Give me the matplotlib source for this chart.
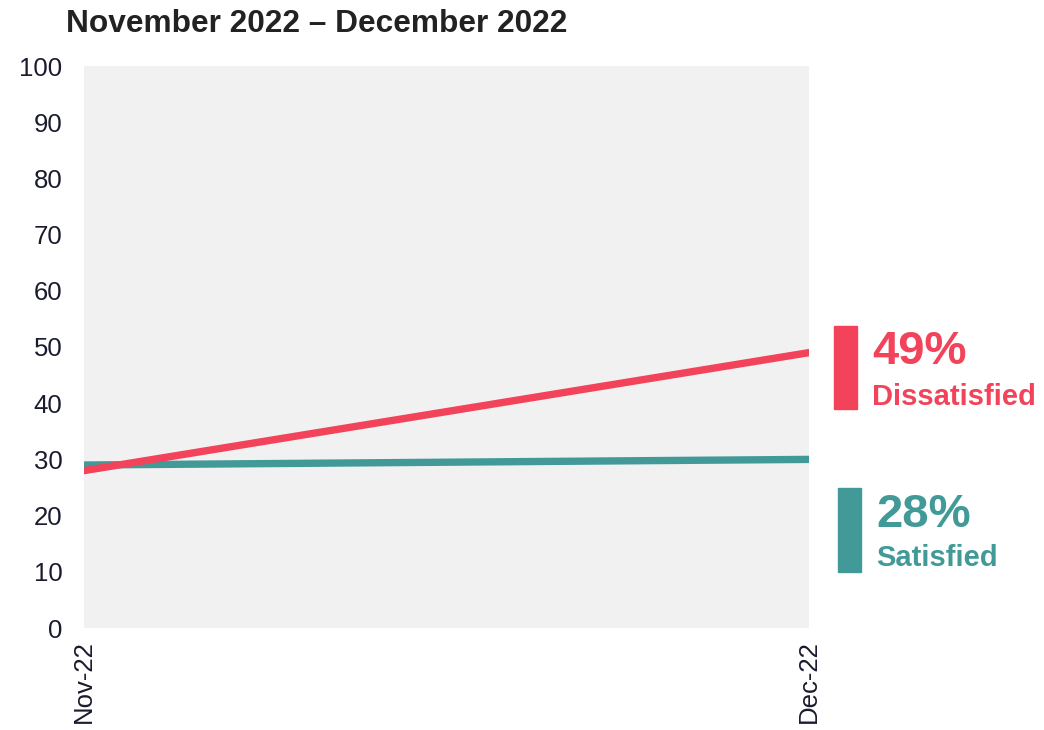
import matplotlib
matplotlib.use("Agg")
import matplotlib.pyplot as plt
from matplotlib.patches import Rectangle

plt.rcParams['font.family'] = ['Liberation Sans', 'DejaVu Sans']

months = ["Nov-22", "Dec-22"]
dissatisfied = [28, 49]
satisfied = [29, 30]
labels = ["Dissatisfied", "Satisfied"]
label_values = ["49%", "28%"]
yticks = [0, 10, 20, 30, 40, 50, 60, 70, 80, 90, 100]
title = "November 2022 \u2013 December 2022"

red = "#F2435A"
teal = "#429A98"
textc = "#1B1B2F"

fig = plt.figure(figsize=(10.44, 7.3), dpi=100)
ax = fig.add_axes([84/1044, 1-628/730, (809-84)/1044, (628-66)/730])
ax.set_facecolor("#F1F1F1")
x = list(range(len(months)))
ax.plot(x, satisfied, color=teal, lw=5.3, solid_capstyle='round')
ax.plot(x, dissatisfied, color=red, lw=5.3, solid_capstyle='round')
ax.set_xlim(0, 1)
ax.set_ylim(0, 100)
ax.set_yticks(yticks)
ax.set_yticklabels([str(v) for v in yticks], fontsize=18.5, color=textc)
ax.set_xticks(x)
ax.set_xticklabels(months, rotation=90, fontsize=18.5, color=textc)
ax.tick_params(length=0, axis='y', pad=15.5)
ax.tick_params(length=0, axis='x', pad=9)
for s in ax.spines.values():
    s.set_visible(False)

fig.text(66/1044, 1-24/730, title, fontsize=22.8, fontweight='bold', color="#222222", va='center', ha='left')

# side annotations
def px(xp, yp):
    return xp/1044, 1-yp/730

for (bx0, by0, bx1, by1, col, val, lab, tx, vy, ly) in [
    (834, 326, 857, 409, red, label_values[0], labels[0], 872, 352, 397),
    (838, 488, 861, 572, teal, label_values[1], labels[1], 876, 515, 558),
]:
    fig.patches.append(Rectangle((bx0/1044, 1-by1/730), (bx1-bx0)/1044, (by1-by0)/730,
                                 transform=fig.transFigure, color=col, zorder=3))
    X, Y = px(tx, vy)
    fig.text(X, Y, val, fontsize=34, fontweight='bold', color=col, va='center', ha='left')
    X, Y = px(tx, ly)
    fig.text(X, Y, lab, fontsize=21, fontweight='bold', color=col, va='center', ha='left')

fig.savefig("out.png", dpi=100)
